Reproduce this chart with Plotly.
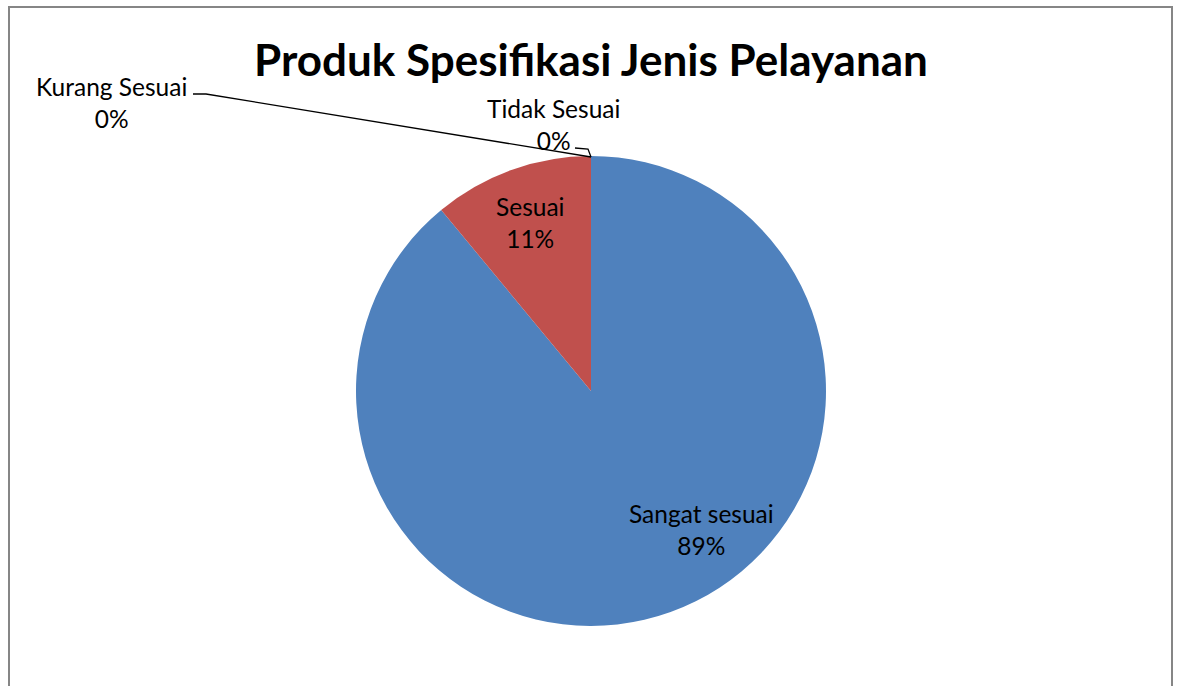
import plotly.graph_objects as go

categories = ["Sangat sesuai", "Sesuai", "Tidak Sesuai", "Kurang Sesuai"]
values = [89, 11, 0, 0]
colors = ["#4F81BD", "#C0504D", "#9BBB59", "#8064A2"]
title_text = "Produk Spesifikasi Jenis Pelayanan"

W, H = 1177, 686
FONT = "Lato"

def px(x):
    return x / W

def py(y):
    return 1 - y / H

cx, cy, r = 591, 391, 235

fig = go.Figure(go.Pie(
    labels=categories,
    values=values,
    sort=False,
    direction="clockwise",
    rotation=0,
    textinfo="none",
    marker=dict(colors=colors, line=dict(width=0)),
    domain=dict(x=[px(cx - r), px(cx + r)], y=[py(cy + r), py(cy - r)]),
    showlegend=False,
))

total = sum(values)
pct = [f"{round(v / total * 100)}%" for v in values]

# label positions (pixel centres), per category
label_pos = [(701, 529), (530, 222), (553, 124), (111, 102)]
annotations = []
for (lx, ly), c, p in zip(label_pos, categories, pct):
    annotations.append(dict(
        x=px(lx), y=py(ly), xref="paper", yref="paper",
        text=f"{c}<br>{p}", showarrow=False,
        font=dict(family=FONT, size=24.5, color="#000000"),
        xanchor="center", yanchor="middle", align="center",
    ))

annotations.append(dict(
    x=px(591), y=py(59), xref="paper", yref="paper",
    text=f"<b>{title_text}</b>", showarrow=False,
    font=dict(family=FONT, size=44, color="#000000"),
    xanchor="center", yanchor="middle",
))

def path(points):
    s = "M " + " L ".join(f"{px(x)},{py(y)}" for x, y in points)
    return s

shapes = [
    dict(type="rect", xref="paper", yref="paper",
         x0=px(9), x1=px(1172), y0=py(720), y1=py(7),
         line=dict(color="#868686", width=2), fillcolor="rgba(0,0,0,0)"),
    dict(type="path", xref="paper", yref="paper",
         path=path([(193, 94), (206, 94), (591, 157)]),
         line=dict(color="#000000", width=1.3)),
    dict(type="path", xref="paper", yref="paper",
         path=path([(575, 148), (588, 149), (591, 157)]),
         line=dict(color="#000000", width=1.3)),
]

fig.update_layout(
    width=W, height=H,
    margin=dict(l=0, r=0, t=0, b=0),
    paper_bgcolor="#FFFFFF",
    plot_bgcolor="#FFFFFF",
    annotations=annotations,
    shapes=shapes,
)

fig.write_html(
    "out.html",
    config={"displayModeBar": False},
    post_script="document.body.style.margin='0px';document.body.style.overflow='hidden';",
)
